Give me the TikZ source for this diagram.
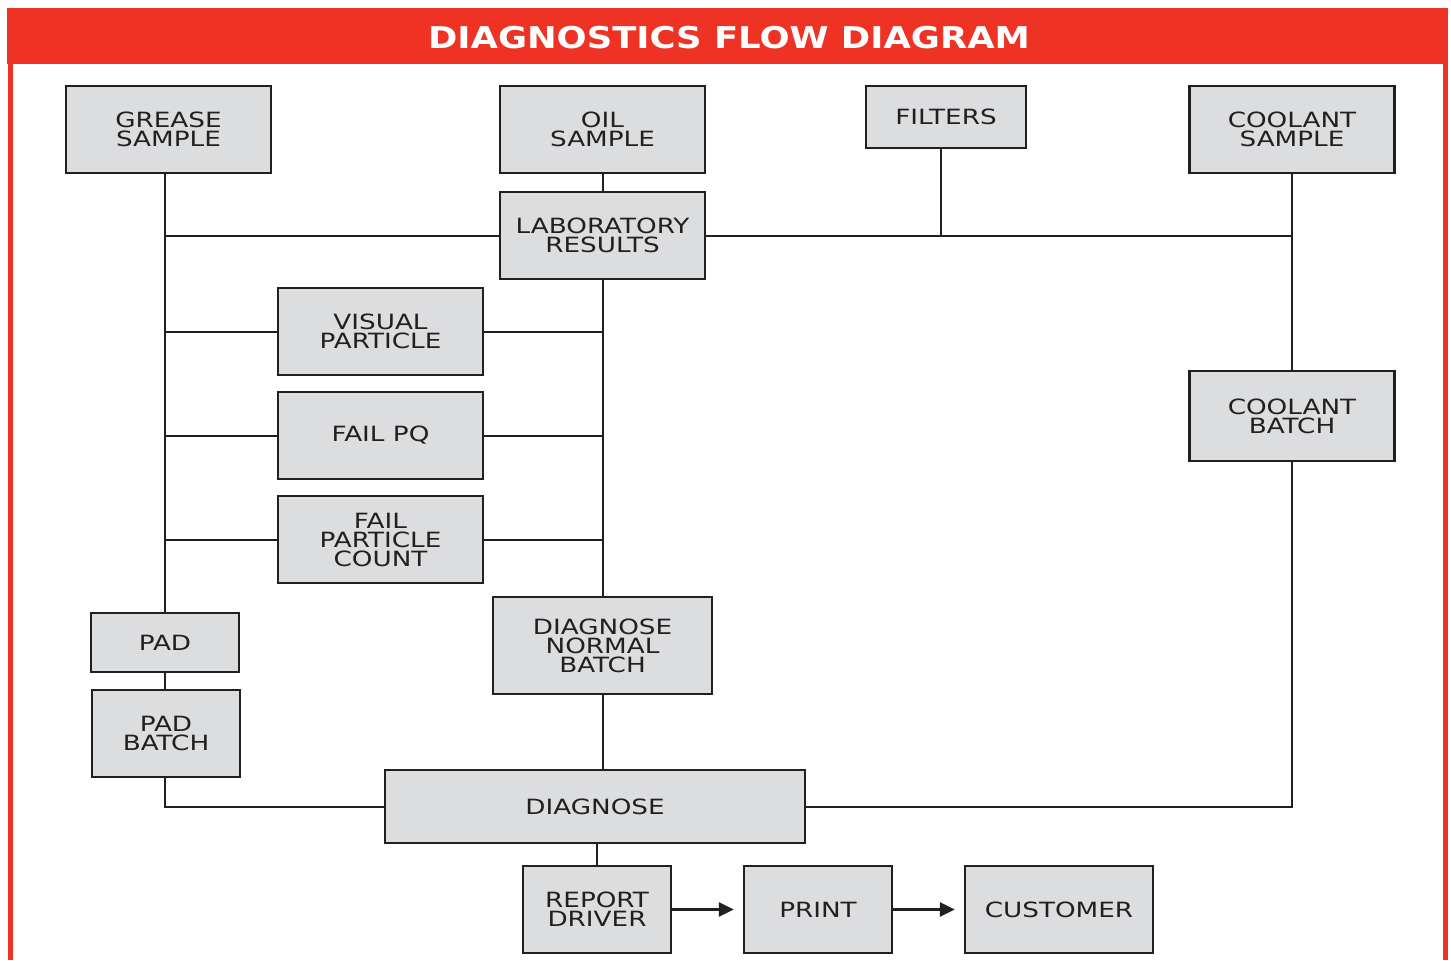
\documentclass[tikz,border=0pt]{standalone}
\usepackage{fontspec}
\usepackage{tikz}
\usetikzlibrary{arrows.meta}

\newfontfamily\boxfont[FakeStretch=1.25]{DejaVu Sans}
\newfontfamily\titlefont[FakeStretch=1.18]{DejaVu Sans}

\definecolor{framered}{HTML}{EE3224}
\definecolor{boxgray}{HTML}{DCDDDF}
\definecolor{boxline}{HTML}{231F20}

\begin{document}
\begin{tikzpicture}[x=0.5pt,y=-0.5pt,
	box/.style={draw=boxline,fill=boxgray,line width=1.25pt,inner sep=0pt,align=center,
		font={\boxfont\fontsize{10.5}{9.5}\selectfont},text=boxline},
	wide/.style={minimum width=102.5pt,minimum height=43.5pt},
	narrow/.style={minimum width=74pt,minimum height=43.5pt},
	link/.style={draw=boxline,line width=1pt},
	arr/.style={link,line width=1.4pt,-{Triangle[length=7.5pt,width=7pt]},shorten >=4.5pt}]
	\useasboundingbox (0,0) rectangle (1451,960);
	
	% frame and title band
	\fill[framered] (7,8) rectangle (1448,64);
	\fill[framered] (8,64) rectangle (13,960);
	\fill[framered] (1443,64) rectangle (1448,960);
	\node[font={\titlefont\bfseries\fontsize{15}{18}\selectfont},text=white] (title) at (729,38) {DIAGNOSTICS FLOW DIAGRAM};
	
	% samples
	\node[box,wide] (grease) at (168.5,129.5) {GREASE\\SAMPLE};
	\node[box,wide] (oil) at (602.5,129.5) {OIL\\SAMPLE};
	\node[box,minimum width=80pt,minimum height=31pt] (filters) at (946,117) {FILTERS};
	\node[box,wide] (coolant) at (1292,129.5) {COOLANT\\SAMPLE};
	
	\node[box,wide] (lab) at (602.5,235.5) {LABORATORY\\RESULTS};
	\node[box,wide] (visual) at (380.5,331.5) {VISUAL\\PARTICLE};
	\node[box,wide] (failpq) at (380.5,435.5) {FAIL PQ};
	\node[box,wide] (failpc) at (380.5,539.5) {FAIL\\PARTICLE\\COUNT};
	\node[box,wide,minimum height=45pt] (coolbatch) at (1292,416) {COOLANT\\BATCH};
	
	\node[box,narrow,minimum height=29.5pt] (pad) at (165,642.5) {PAD};
	\node[box,narrow] (padbatch) at (166,733.5) {PAD\\BATCH};
	\node[box,minimum width=109.5pt,minimum height=48.5pt] (dnb) at (602.5,645.5) {DIAGNOSE\\NORMAL\\BATCH};
	\node[box,minimum width=210pt,minimum height=36.5pt] (diagnose) at (595,806.5) {DIAGNOSE};
	
	\node[box,narrow] (report) at (597,909.5) {REPORT\\DRIVER};
	\node[box,narrow] (print) at (818,909.5) {PRINT};
	\node[box,minimum width=94pt,minimum height=43.5pt] (customer) at (1059,909.5) {CUSTOMER};
	
	% left branch
	\draw[link] (grease.south -| pad) -- (pad.north);
	\draw[link] (pad.south) -- (pad.south |- padbatch.north);
	\draw[link] (pad.south |- padbatch.south) |- (diagnose.west);
	\draw[link] (pad |- lab) -- (lab.west);
	\draw[link] (pad |- visual) -- (visual.west);
	\draw[link] (pad |- failpq) -- (failpq.west);
	\draw[link] (pad |- failpc) -- (failpc.west);
	
	% centre branch
	\draw[link] (oil.south) -- (lab.north);
	\draw[link] (lab.south) -- (dnb.north);
	\draw[link] (visual.east) -- (visual.east -| lab);
	\draw[link] (failpq.east) -- (failpq.east -| lab);
	\draw[link] (failpc.east) -- (failpc.east -| lab);
	\draw[link] (dnb.south) -- (dnb.south |- diagnose.north);
	
	% right branch
	\draw[link] (lab.east) -- (lab.east -| coolant);
	\draw[link] ([xshift=-2.5pt]filters.south) -- ([xshift=-2.5pt]filters.south |- lab);
	\draw[link] (coolant.south) -- (coolbatch.north);
	\draw[link] (coolbatch.south) |- (diagnose.east);
	
	% output
	\draw[link] (report.north |- diagnose.south) -- (report.north);
	\draw[arr] (report.east) -- (print.west);
	\draw[arr] (print.east) -- (customer.west);
\end{tikzpicture}
\end{document}
